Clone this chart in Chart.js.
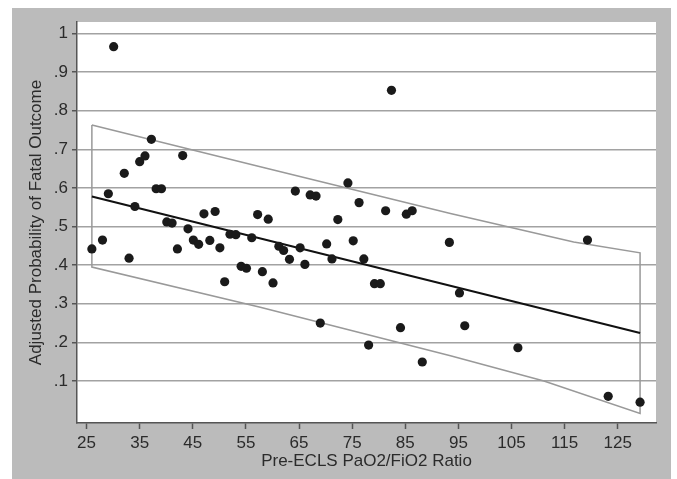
<!DOCTYPE html>
<html>
<head>
<meta charset="utf-8">
<script src="https://cdn.jsdelivr.net/npm/chart.js@4/dist/chart.umd.min.js"></script>
<style>
  html, body { margin: 0; padding: 0; background: #ffffff; }
  #wrap { width: 677px; height: 479px; position: relative; }
</style>
</head>
<body>
<div id="wrap"><canvas id="c" width="677" height="479"></canvas></div>
<script>
// ---- Data ----
const ratio = [26.0, 28.0, 29.1, 30.1, 32.1, 33.0, 34.1, 35.0, 36.0, 37.2,
               38.1, 39.1, 40.1, 41.1, 42.1, 43.1, 44.1, 45.1, 46.1, 47.1,
               48.2, 49.2, 50.1, 51.0, 52.0, 53.1, 54.1, 55.1, 56.1, 57.2,
               58.1, 59.2, 60.1, 61.2, 62.1, 63.2, 64.3, 65.2, 66.1, 67.1,
               68.2, 69.0, 70.2, 71.2, 72.3, 74.2, 75.2, 76.3, 77.2, 78.1,
               79.2, 80.3, 81.3, 82.4, 84.1, 85.2, 86.3, 88.2, 93.3, 95.2,
               96.2, 106.2, 119.3, 123.2, 129.2];
const prob  = [0.442, 0.465, 0.585, 0.966, 0.638, 0.418, 0.552, 0.668, 0.683, 0.726,
               0.598, 0.598, 0.512, 0.509, 0.442, 0.684, 0.494, 0.465, 0.454, 0.533,
               0.464, 0.539, 0.445, 0.357, 0.480, 0.479, 0.397, 0.392, 0.471, 0.531,
               0.383, 0.519, 0.354, 0.449, 0.438, 0.415, 0.592, 0.445, 0.402, 0.582,
               0.579, 0.250, 0.455, 0.416, 0.518, 0.613, 0.463, 0.562, 0.416, 0.193,
               0.352, 0.352, 0.541, 0.853, 0.238, 0.532, 0.541, 0.149, 0.459, 0.328,
               0.243, 0.186, 0.465, 0.060, 0.045];

// fitted line
const fitX = [26.0, 129.2];
const fitY = [0.578, 0.224];

// prediction band outline
const upX = [26.0, 57.7, 93.5, 116.7, 129.2];
const upY = [0.763, 0.655, 0.534, 0.460, 0.432];
const loX = [26.0, 57.7, 93.5, 111.1, 129.2];
const loY = [0.395, 0.291, 0.165, 0.100, 0.016];

// axis ticks
const xTicks = [25, 35, 45, 55, 65, 75, 85, 95, 105, 115, 125];
const yTicks = [0.1, 0.2, 0.3, 0.4, 0.5, 0.6, 0.7, 0.8, 0.9, 1.0];
const yTickLabels = ['.1', '.2', '.3', '.4', '.5', '.6', '.7', '.8', '.9', '1'];

// ---- Build datasets ----
const pts = ratio.map((x, i) => ({ x: x, y: prob[i] }));
const fitPts = fitX.map((x, i) => ({ x: x, y: fitY[i] }));
const bandPts = [];
upX.forEach((x, i) => bandPts.push({ x: x, y: upY[i] }));
for (let i = loX.length - 1; i >= 0; i--) bandPts.push({ x: loX[i], y: loY[i] });
bandPts.push({ x: upX[0], y: upY[0] });

const FONT = "'Liberation Sans', Arial, Helvetica, sans-serif";
const TXT = '#2b2b2b';

const bgPlugin = {
  id: 'bg',
  beforeDraw(chart) {
    const ctx = chart.ctx;
    const a = chart.chartArea;
    ctx.save();
    ctx.fillStyle = '#ffffff';
    ctx.fillRect(0, 0, chart.width, chart.height);
    ctx.fillStyle = '#bbbbbb';
    ctx.fillRect(12, 8, 659, 471);
    ctx.fillStyle = '#ffffff';
    ctx.fillRect(a.left, a.top, a.right - a.left, a.bottom - a.top);
    ctx.restore();
  }
};

new Chart(document.getElementById('c'), {
  type: 'scatter',
  data: {
    datasets: [
      {
        label: 'points',
        data: pts,
        backgroundColor: '#1a1a1a',
        borderColor: '#1a1a1a',
        borderWidth: 0,
        pointRadius: 4.6,
        showLine: false,
        order: 0
      },
      {
        label: 'fit',
        data: fitPts,
        showLine: true,
        borderColor: '#111111',
        borderWidth: 2,
        pointRadius: 0,
        fill: false,
        order: 1
      },
      {
        label: 'band',
        data: bandPts,
        showLine: true,
        borderColor: '#999999',
        borderWidth: 1.5,
        pointRadius: 0,
        fill: false,
        order: 2
      }
    ]
  },
  options: {
    responsive: false,
    animation: false,
    devicePixelRatio: 1,
    layout: { padding: { top: 22, right: 21, left: 0, bottom: 0 } },
    plugins: {
      legend: { display: false },
      tooltip: { enabled: false }
    },
    scales: {
      x: {
        type: 'linear',
        min: 23.2,
        max: 132.2,
        afterFit(scale) { scale.height = 56; },
        afterBuildTicks(scale) { scale.ticks = xTicks.map(v => ({ value: v })); },
        grid: {
          drawOnChartArea: false,
          drawTicks: true,
          tickLength: 6,
          tickColor: '#555555',
          tickWidth: 1.5
        },
        border: { display: true, color: '#555555', width: 1.5 },
        ticks: {
          autoSkip: false,
          maxRotation: 0,
          padding: 4,
          color: TXT,
          font: { family: FONT, size: 17 },
          callback: (v) => String(v)
        },
        title: {
          display: true,
          text: 'Pre-ECLS PaO2/FiO2 Ratio',
          color: TXT,
          font: { family: FONT, size: 17 },
          padding: { top: 0, bottom: 7 }
        }
      },
      y: {
        type: 'linear',
        min: -0.009,
        max: 1.03,
        afterFit(scale) { scale.width = 77; },
        afterBuildTicks(scale) { scale.ticks = yTicks.map(v => ({ value: v })); },
        grid: {
          drawOnChartArea: true,
          drawTicks: true,
          tickLength: 5,
          color: '#a2a2a2',
          lineWidth: 1.5,
          tickColor: '#555555',
          tickWidth: 1.5
        },
        border: { display: true, color: '#555555', width: 1.5 },
        ticks: {
          autoSkip: false,
          padding: 4,
          color: TXT,
          font: { family: FONT, size: 17 },
          callback: (v) => {
            const i = yTicks.findIndex(t => Math.abs(t - v) < 1e-6);
            return i >= 0 ? yTickLabels[i] : '';
          }
        },
        title: {
          display: true,
          text: 'Adjusted Probability of Fatal Outcome',
          color: TXT,
          font: { family: FONT, size: 17 },
          padding: { top: 26, bottom: 0 }
        }
      }
    }
  },
  plugins: [bgPlugin]
});
</script>
</body>
</html>
